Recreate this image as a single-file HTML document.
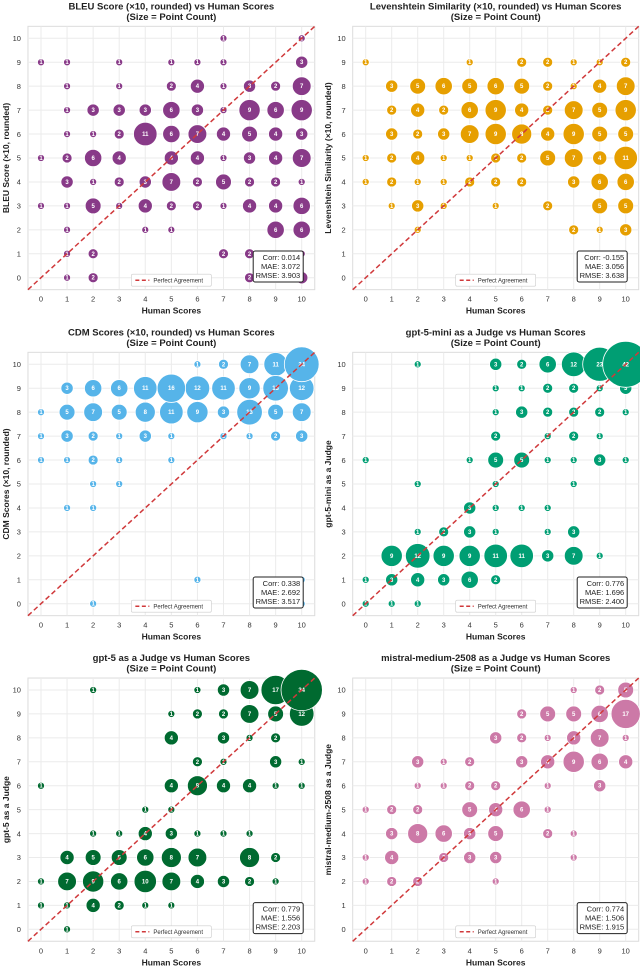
<!DOCTYPE html>
<html><head><meta charset="utf-8">
<style>
html,body{margin:0;padding:0;background:#fff;}
svg{display:block;font-family:"Liberation Sans",sans-serif;}
</style></head>
<body>
<svg id="fig" width="640" height="967" viewBox="0 0 640 967" xmlns="http://www.w3.org/2000/svg"></svg>
<script>
// ---- data ----
const xTicks = [0,1,2,3,4,5,6,7,8,9,10];
const yTicks = [0,1,2,3,4,5,6,7,8,9,10];
const titles = [
 "BLEU Score (×10, rounded) vs Human Scores",
 "Levenshtein Similarity (×10, rounded) vs Human Scores",
 "CDM Scores (×10, rounded) vs Human Scores",
 "gpt-5-mini as a Judge vs Human Scores",
 "gpt-5 as a Judge vs Human Scores",
 "mistral-medium-2508 as a Judge vs Human Scores"
];
const yTitles = ["BLEU Score (×10, rounded)","Levenshtein Similarity (×10, rounded)","CDM Scores (×10, rounded)","gpt-5-mini as a Judge","gpt-5 as a Judge","mistral-medium-2508 as a Judge"];
const colors = ["#883a88","#e69f00","#56b4e9","#009e73","#006a30","#cc79a7"];
const stats = [["0.014","3.072","3.903"],["-0.155","3.056","3.638"],["0.338","2.692","3.517"],["0.776","1.696","2.400"],["0.779","1.556","2.203"],["0.774","1.506","1.915"]];
// each entry: [human, score, count]
const bleuPoints = [
 [7,10,1],[10,10,1],
 [0,9,1],[1,9,1],[3,9,1],[5,9,1],[6,9,1],[7,9,1],[10,9,3],
 [1,8,1],[3,8,1],[5,8,2],[6,8,4],[7,8,1],[8,8,3],[9,8,2],[10,8,7],
 [1,7,1],[2,7,3],[3,7,3],[4,7,3],[5,7,6],[6,7,3],[7,7,1],[8,7,9],[9,7,6],[10,7,9],
 [1,6,1],[2,6,1],[3,6,2],[4,6,11],[5,6,6],[6,6,7],[7,6,4],[8,6,5],[9,6,4],[10,6,3],
 [0,5,1],[1,5,2],[2,5,6],[3,5,4],[5,5,4],[6,5,4],[7,5,1],[8,5,3],[9,5,4],[10,5,7],
 [1,4,3],[2,4,1],[3,4,2],[4,4,3],[5,4,7],[6,4,2],[7,4,5],[8,4,2],[9,4,2],[10,4,1],
 [0,3,1],[1,3,1],[2,3,5],[3,3,1],[4,3,4],[5,3,2],[6,3,2],[7,3,1],[8,3,4],[9,3,4],[10,3,6],
 [1,2,1],[4,2,1],[5,2,1],[9,2,6],[10,2,6],
 [1,1,1],[2,1,2],[7,1,2],[8,1,2],[10,1,1],
 [1,0,1],[2,0,2],[8,0,2],[9,0,2],[10,0,3]
];
const levPoints = [
 [0,9,1],[4,9,1],[6,9,2],[7,9,2],[8,9,1],[9,9,1],[10,9,2],
 [1,8,3],[2,8,5],[3,8,6],[4,8,5],[5,8,6],[6,8,5],[7,8,2],[8,8,1],[9,8,4],[10,8,7],
 [1,7,2],[2,7,4],[3,7,2],[4,7,6],[5,7,9],[6,7,4],[7,7,2],[8,7,7],[9,7,5],[10,7,9],
 [1,6,3],[2,6,2],[3,6,3],[4,6,7],[5,6,9],[6,6,8],[7,6,4],[8,6,9],[9,6,5],[10,6,5],
 [0,5,1],[1,5,2],[2,5,4],[3,5,1],[4,5,1],[5,5,2],[6,5,2],[7,5,5],[8,5,7],[9,5,4],[10,5,11],
 [0,4,1],[1,4,2],[2,4,1],[3,4,1],[4,4,2],[5,4,2],[6,4,2],[8,4,3],[9,4,6],[10,4,6],
 [1,3,1],[2,3,3],[3,3,1],[5,3,1],[7,3,2],[9,3,5],[10,3,5],
 [2,2,1],[8,2,2],[9,2,1],[10,2,3]
];
const cdmPoints = [
 [6,10,1],[7,10,2],[8,10,7],[9,10,11],[10,10,24],
 [1,9,3],[2,9,6],[3,9,6],[4,9,11],[5,9,16],[6,9,12],[7,9,11],[8,9,9],[9,9,13],[10,9,12],
 [0,8,1],[1,8,5],[2,8,7],[3,8,5],[4,8,8],[5,8,11],[6,8,9],[7,8,3],[8,8,13],[9,8,5],[10,8,7],
 [0,7,1],[1,7,3],[2,7,2],[3,7,1],[4,7,3],[5,7,1],[7,7,1],[8,7,1],[9,7,2],[10,7,3],
 [0,6,1],[1,6,1],[2,6,2],[3,6,1],[5,6,1],
 [2,5,1],[3,5,1],
 [1,4,1],[2,4,1],
 [6,1,1],[10,1,1],
 [2,0,1],[10,0,1]
];
const gpt5miniPoints = [
 [2,10,1],[5,10,3],[6,10,2],[7,10,6],[8,10,12],[9,10,23],[10,10,42],
 [5,9,1],[6,9,1],[7,9,2],[8,9,2],[9,9,1],[10,9,3],
 [5,8,1],[6,8,3],[7,8,2],[8,8,2],[9,8,2],[10,8,1],
 [5,7,2],[7,7,1],[8,7,2],[9,7,1],
 [0,6,1],[4,6,1],[5,6,5],[6,6,5],[7,6,1],[8,6,1],[9,6,3],[10,6,1],
 [2,5,1],[5,5,1],[8,5,1],
 [4,4,3],[5,4,1],[6,4,1],[7,4,1],
 [2,3,1],[3,3,2],[4,3,3],[5,3,1],[7,3,1],[8,3,3],
 [1,2,9],[2,2,12],[3,2,9],[4,2,9],[5,2,11],[6,2,11],[7,2,3],[8,2,7],[9,2,1],
 [0,1,1],[1,1,3],[2,1,4],[3,1,3],[4,1,6],[5,1,2],
 [0,0,1],[1,0,1],[2,0,1]
];
const gpt5Points = [
 [2,10,1],[6,10,1],[7,10,3],[8,10,7],[9,10,17],[10,10,34],
 [5,9,1],[6,9,2],[7,9,2],[8,9,7],[9,9,5],[10,9,12],
 [5,8,4],[7,8,3],[8,8,1],[9,8,2],
 [6,7,2],[7,7,1],[9,7,3],[10,7,1],
 [0,6,1],[5,6,4],[6,6,8],[7,6,4],[8,6,4],[9,6,1],[10,6,1],
 [4,5,1],[5,5,1],
 [2,4,1],[3,4,1],[4,4,4],[5,4,3],[6,4,1],[7,4,1],[8,4,1],
 [1,3,4],[2,3,5],[3,3,5],[4,3,6],[5,3,8],[6,3,7],[8,3,8],[9,3,2],
 [0,2,1],[1,2,7],[2,2,9],[3,2,6],[4,2,10],[5,2,7],[6,2,4],[7,2,3],[8,2,2],[9,2,1],
 [0,1,1],[1,1,1],[2,1,4],[3,1,2],[4,1,1],[5,1,1],
 [1,0,1]
];
const mistralPoints = [
 [8,10,1],[9,10,2],[10,10,5],
 [6,9,2],[7,9,5],[8,9,5],[9,9,6],[10,9,17],
 [5,8,3],[6,8,2],[7,8,1],[8,8,4],[9,8,7],[10,8,1],
 [2,7,3],[3,7,1],[4,7,2],[6,7,3],[7,7,4],[8,7,9],[9,7,6],[10,7,4],
 [2,6,1],[3,6,1],[4,6,2],[5,6,2],[7,6,1],[9,6,3],
 [0,5,1],[1,5,2],[2,5,2],[4,5,5],[5,5,4],[6,5,6],[7,5,1],
 [1,4,3],[2,4,8],[3,4,6],[4,4,3],[5,4,5],[7,4,2],[8,4,1],
 [0,3,1],[1,3,4],[3,3,2],[4,3,3],[5,3,3],[8,3,1],
 [0,2,1],[1,2,2],[2,2,2],[5,2,1]
];
const allPoints = [bleuPoints, levPoints, cdmPoints, gpt5miniPoints, gpt5Points, mistralPoints];

// ---- layout ----
const NS = "http://www.w3.org/2000/svg";
const svg = document.getElementById("fig");
const colX0 = [41, 365.7], colDX = [26.07, 26.0];
const rowY0 = [277.7, 603.7, 929.3], rowDY = [23.94, 23.94, 23.93];
const slugs = ["bleu","levenshtein","cdm","gpt5-mini","gpt5","mistral"];
function mk(tag, attrs, parent){const e=document.createElementNS(NS,tag);for(const k in attrs)e.setAttribute(k,attrs[k]);(parent||svg).appendChild(e);return e;}

for (let p=0;p<6;p++){
  const c=p%2, r=Math.floor(p/2);
  const xs = v => colX0[c] + v*colDX[c];
  const ys = v => rowY0[r] - v*rowDY[r];
  const g = mk("g",{});
  
  
  const L=xs(-0.5), R=xs(10.5), T=ys(10.5), B=ys(-0.5);
  const bg = mk("rect",{x:L,y:T,width:R-L,height:B-T,fill:"#fff",stroke:"#dcdcdc","stroke-width":1},g);
  
  
  xTicks.forEach(t=>{
    const gl = mk("line",{x1:xs(t),x2:xs(t),y1:T,y2:B,stroke:"#ebebeb","stroke-width":1},g);
    
    
    const tl = mk("text",{x:xs(t),y:B+12,"text-anchor":"middle","font-size":"7.5",fill:"#333"},g);
    tl.textContent=t;
    
    
  });
  yTicks.forEach(t=>{
    const gl = mk("line",{x1:L,x2:R,y1:ys(t),y2:ys(t),stroke:"#ebebeb","stroke-width":1},g);
    
    
    const tl = mk("text",{x:L-7,y:ys(t)+2.7,"text-anchor":"end","font-size":"7.5",fill:"#333"},g);
    tl.textContent=t;
    
    
  });
  // bubbles
  const pts = allPoints[p].slice().sort((a,b)=>a[2]-b[2]);
  pts.forEach(d=>{
    const rad = 3.55*Math.sqrt(d[2]);
    const ci = mk("circle",{cx:xs(d[0]),cy:ys(d[1]),r:rad,fill:colors[p],stroke:"#fff","stroke-width":0.8},g);
    
    
    const tx = mk("text",{x:xs(d[0]),y:ys(d[1])+2,"text-anchor":"middle","font-size":"6","font-weight":"bold",fill:"#fff"},g);
    tx.textContent=d[2];
    
    
  });
  // diagonal
  const dl = mk("line",{x1:xs(-0.5),y1:ys(-0.5),x2:xs(10.5),y2:ys(10.5),stroke:"#d0393b","stroke-width":1.5,"stroke-dasharray":"5,3"},g);
  
  
  // legend
  const cx=(L+R)/2;
  const lg = mk("g",{},g);
  
  
  mk("rect",{x:cx-40,y:ys(0)-3.5,width:80,height:12,fill:"#fff",stroke:"#ccc","stroke-width":0.6,rx:1.5},lg);
  mk("line",{x1:cx-36,x2:cx-22,y1:ys(0)+2.5,y2:ys(0)+2.5,stroke:"#d0393b","stroke-width":1.5,"stroke-dasharray":"4,2.5"},lg);
  const lt = mk("text",{x:cx-18,y:ys(0)+4.7,"font-size":"6",fill:"#333"},lg);
  lt.textContent="Perfect Agreement";
  // stats box
  const sb = mk("g",{},g);
  
  
  const bx2=xs(10)+1.5, by=ys(0)-26.7;
  mk("rect",{x:bx2-50,y:by,width:50,height:31,fill:"#fff",stroke:"#222","stroke-width":1,rx:2},sb);
  ["Corr: "+stats[p][0],"MAE: "+stats[p][1],"RMSE: "+stats[p][2]].forEach((s,i)=>{
    const st = mk("text",{x:bx2-3,y:by+9+i*9,"text-anchor":"end","font-size":"7.5",fill:"#222"},sb);
    st.textContent=s;
  });
  // titles
  const tt1 = mk("text",{x:cx,y:T-17,"text-anchor":"middle","font-size":"9.5","font-weight":"bold",fill:"#222"},g);
  tt1.textContent=titles[p];
  
  
  const tt2 = mk("text",{x:cx,y:T-6.5,"text-anchor":"middle","font-size":"9.5","font-weight":"bold",fill:"#222"},g);
  tt2.textContent="(Size = Point Count)";
  
  
  const xt = mk("text",{x:cx,y:B+24,"text-anchor":"middle","font-size":"8.5","font-weight":"bold",fill:"#222"},g);
  xt.textContent="Human Scores";
  
  
  const yx = c===0?9:331, yy=(T+B)/2;
  const yt = mk("text",{x:yx,y:yy,"text-anchor":"middle","font-size":"8.5","font-weight":"bold",fill:"#222",transform:`rotate(-90 ${yx} ${yy})`},g);
  yt.textContent=yTitles[p];
  
  
}
</script>
</body></html>
